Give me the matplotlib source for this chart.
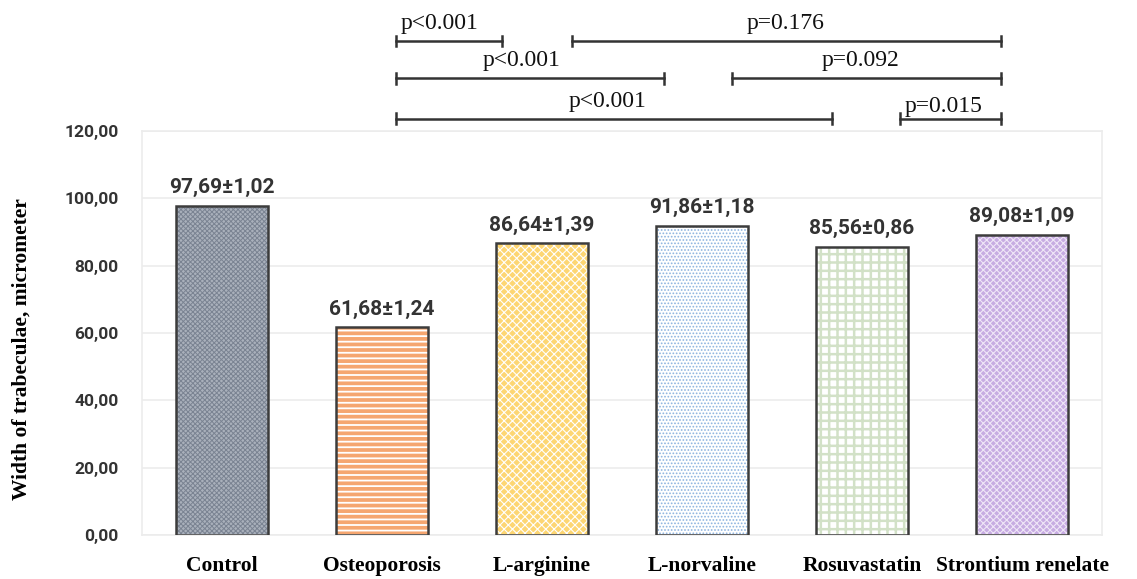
import matplotlib
matplotlib.use("Agg")
import matplotlib.pyplot as plt

categories = ["Control", "Osteoporosis", "L-arginine", "L-norvaline", "Rosuvastatin", "Strontium renelate"]
values = [97.69, 61.68, 86.64, 91.86, 85.56, 89.08]
errors = [1.02, 1.24, 1.39, 1.18, 0.86, 1.09]
value_labels = ["97,69±1,02", "61,68±1,24", "86,64±1,39", "91,86±1,18", "85,56±0,86", "89,08±1,09"]
y_ticks = [0, 20, 40, 60, 80, 100, 120]
y_tick_labels = ["0,00", "20,00", "40,00", "60,00", "80,00", "100,00", "120,00"]

# comparison brackets
brackets_x0 = [1.09, 2.19, 1.09, 3.19, 1.09, 4.24]
brackets_x1 = [1.75, 4.87, 2.76, 4.87, 3.81, 4.87]
brackets_y = [146.7, 146.7, 135.7, 135.7, 123.6, 123.6]
brackets_lbl = ["p<0.001", "p=0.176", "p<0.001", "p=0.092", "p<0.001", "p=0.015"]
brackets_lbl_x = [1.36, 3.52, 1.87, 3.99, 2.41, 4.51]
brackets_lbl_dy = [2.2, 2.2, 2.0, 2.0, 2.0, 0.6]

faces = ["#a9b0bb", "#f5a670", "#fdd673", "#ffffff", "#ffffff", "#c7ace2"]
hatch_cols = ["#7a8392", "#ffffff", "#ffffff", "#8db3df", "#d2e1c7", "#efe6f7"]
hatches = ["xxxxxxx", "---", "xxxx", ".....", "++", "xxxxx"]
hatch_lw = [0.7, 1.3, 0.8, 0.8, 1.8, 0.8]

fig = plt.figure(figsize=(11.37, 5.79), dpi=100)
ax = fig.add_axes([142/1137, 44/579, 960/1137, 404/579])

cond = ["Roboto", "DejaVu Sans"]
serif = ["Liberation Serif", "DejaVu Serif"]

x = list(range(len(categories)))
for i in x:
    plt.rcParams['hatch.linewidth'] = hatch_lw[i]
    ax.bar(i, values[i], width=0.57, color=faces[i], edgecolor=hatch_cols[i],
           hatch=hatches[i], linewidth=0, zorder=2)
    ax.bar(i, values[i], width=0.57, fill=False, edgecolor="#3c3c3c",
           linewidth=1.8, zorder=3)
    ax.text(i, values[i] + 2.6, value_labels[i], ha="center", va="bottom",
            fontsize=15, fontweight="bold", color="#333333", family=cond)

ax.set_xlim(-0.5, 5.5)
ax.set_ylim(0, 120)
ax.set_yticks(y_ticks)
ax.set_yticklabels(y_tick_labels, fontsize=12.5, fontweight="bold", color="#333333",
                   family=cond)
ax.set_xticks(x)
ax.set_xticklabels(categories, fontsize=15.5, fontweight="bold", family=serif)
ax.tick_params(axis="both", length=0)
ax.tick_params(axis="x", pad=15)
ax.tick_params(axis="y", pad=17)
ax.grid(axis="y", color="#ececec", linewidth=1.2, zorder=0)
ax.set_axisbelow(True)
for s in ax.spines.values():
    s.set_color("#ececec")
    s.set_linewidth(1.2)
fig.text(22/1137, (579-349)/579, "Width of trabeculae, micrometer", rotation=90,
         ha="center", va="center", fontsize=15.5, fontweight="bold", family=serif)

for x0, x1, y, lbl, lx, dy in zip(brackets_x0, brackets_x1, brackets_y, brackets_lbl,
                                  brackets_lbl_x, brackets_lbl_dy):
    ax.plot([x0, x1], [y, y], color="#333333", lw=1.8, clip_on=False, zorder=4)
    for xx in (x0, x1):
        ax.plot([xx, xx], [y - 1.6, y + 1.6], color="#333333", lw=1.8, clip_on=False, zorder=4)
    ax.text(lx, y + dy, lbl, ha="center", va="bottom", fontsize=17,
            family=serif, color="#111111")

fig.savefig("out.png", dpi=100)
